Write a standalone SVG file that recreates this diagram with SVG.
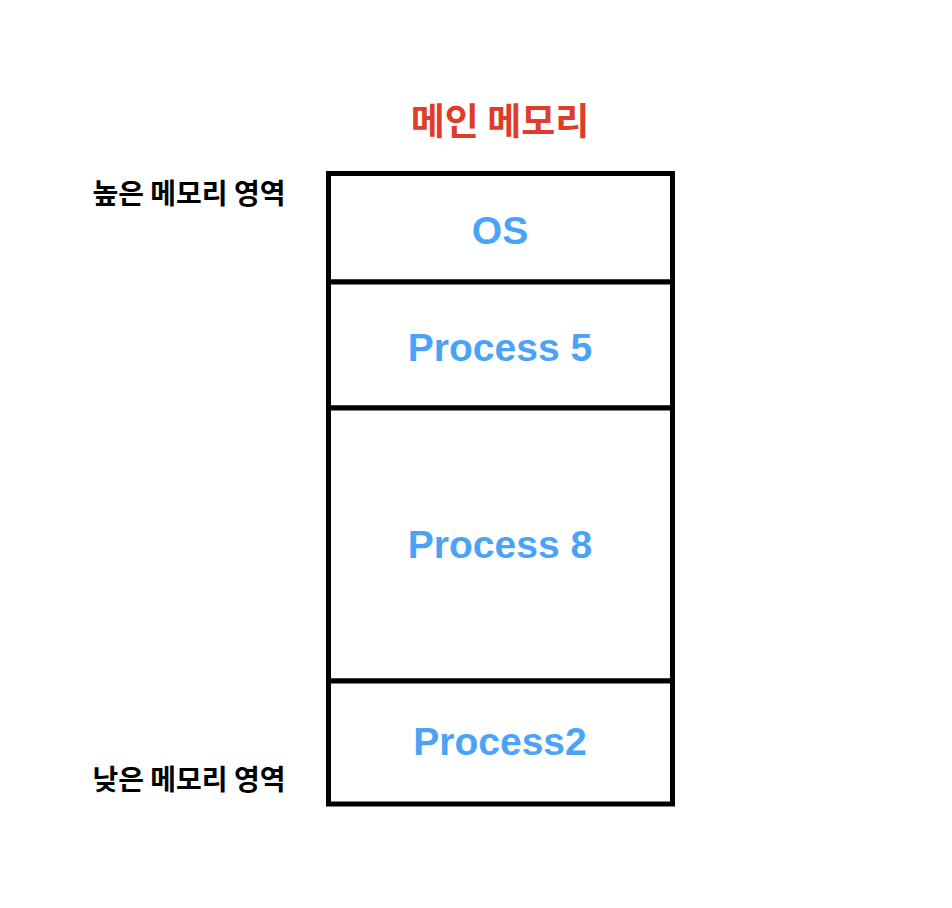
<svg xmlns="http://www.w3.org/2000/svg" width="952" height="908" viewBox="0 0 952 908">
<style>
.box{fill:#fff;stroke:#000;stroke-width:5}
.lbl{font-family:"Liberation Sans",Arial,sans-serif;font-weight:bold;font-size:39px;fill:#4BA3F7;text-anchor:middle}
.kr{font-family:"Noto Sans CJK KR",sans-serif;font-weight:bold;text-anchor:middle}
</style>
<rect width="952" height="908" fill="#fff"/>
<text class="kr" x="500" y="135" font-size="37" fill="#DD3D2A">메인 메모리</text>
<text class="kr" x="189" y="204" font-size="28" fill="#000">높은 메모리 영역</text>
<text class="kr" x="189" y="790" font-size="28" fill="#000">낮은 메모리 영역</text>
<g id="os"><rect class="box" x="328.5" y="173.5" width="344" height="108.5"/><text class="lbl" x="500" y="244">OS</text></g>
<g id="p5"><rect class="box" x="328.5" y="282" width="344" height="126"/><text class="lbl" x="500" y="361">Process 5</text></g>
<g id="p8"><rect class="box" x="328.5" y="408" width="344" height="273"/><text class="lbl" x="500" y="558">Process 8</text></g>
<g id="p2"><rect class="box" x="328.5" y="681" width="344" height="123"/><text class="lbl" x="500" y="755">Process2</text></g>
<g id="connectors"></g>
</svg>
